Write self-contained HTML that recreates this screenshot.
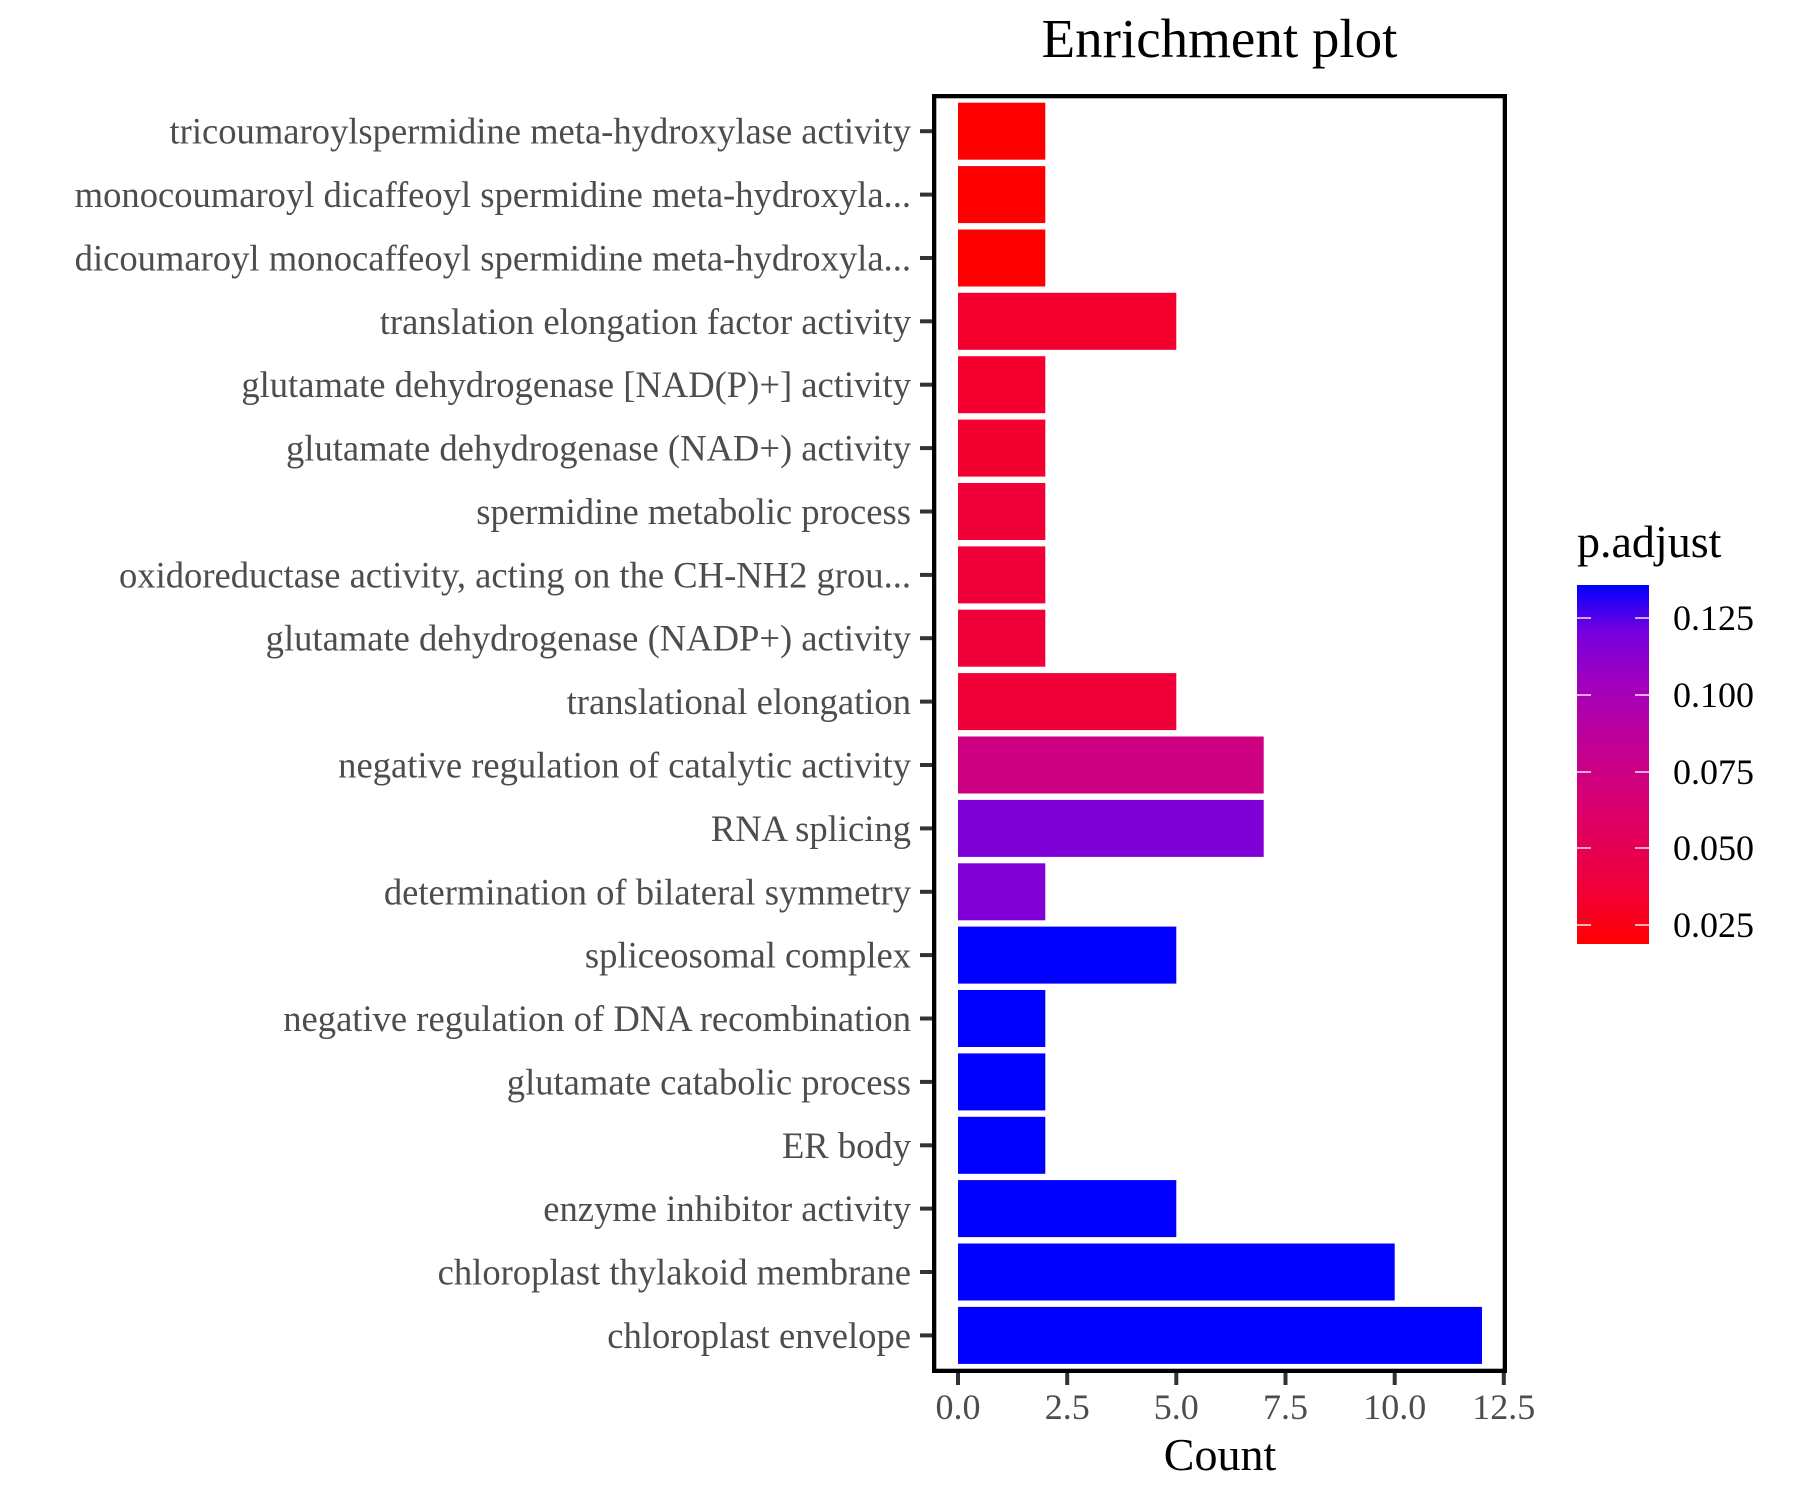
<!DOCTYPE html>
<html>
<head>
<meta charset="utf-8">
<style>
  html, body { margin: 0; padding: 0; background: #ffffff; }
  svg { display: block; }
  text { font-family: "Liberation Serif", "DejaVu Serif", serif; }
</style>
</head>
<body>
<svg width="1800" height="1500" viewBox="0 0 1800 1500" xmlns="http://www.w3.org/2000/svg">
  <defs>
    <linearGradient id="cbar" x1="0" y1="1" x2="0" y2="0">
      <stop offset="0%" stop-color="#FF0000"/>
      <stop offset="12.5%" stop-color="#F40031"/>
      <stop offset="25%" stop-color="#E8004F"/>
      <stop offset="37.5%" stop-color="#DA006C"/>
      <stop offset="50%" stop-color="#CA0089"/>
      <stop offset="62.5%" stop-color="#B500A5"/>
      <stop offset="75%" stop-color="#9A00C3"/>
      <stop offset="87.5%" stop-color="#7300E0"/>
      <stop offset="100%" stop-color="#0000FF"/>
    </linearGradient>
  </defs>
  <rect x="0" y="0" width="1800" height="1500" fill="#ffffff"/>

  <!-- Title -->
  <text x="1219.5" y="57" font-size="55" text-anchor="middle" fill="#000000">Enrichment plot</text>

  <!-- Bars -->
  <g>
    <rect x="958" y="102.7" width="87.3" height="57" fill="#FF0000"/>
    <rect x="958" y="166.1" width="87.3" height="57" fill="#FF0000"/>
    <rect x="958" y="229.5" width="87.3" height="57" fill="#FF0000"/>
    <rect x="958" y="292.8" width="218.3" height="57" fill="#F5002E"/>
    <rect x="958" y="356.2" width="87.3" height="57" fill="#F5002E"/>
    <rect x="958" y="419.6" width="87.3" height="57" fill="#F4002F"/>
    <rect x="958" y="483.0" width="87.3" height="57" fill="#F00038"/>
    <rect x="958" y="546.4" width="87.3" height="57" fill="#F00038"/>
    <rect x="958" y="609.7" width="87.3" height="57" fill="#F00038"/>
    <rect x="958" y="673.1" width="218.3" height="57" fill="#F00038"/>
    <rect x="958" y="736.5" width="305.7" height="57" fill="#CC0080"/>
    <rect x="958" y="799.9" width="305.7" height="57" fill="#8000D8"/>
    <rect x="958" y="863.3" width="87.3" height="57" fill="#8200D6"/>
    <rect x="958" y="926.6" width="218.3" height="57" fill="#0000FF"/>
    <rect x="958" y="990.0" width="87.3" height="57" fill="#0000FF"/>
    <rect x="958" y="1053.4" width="87.3" height="57" fill="#0000FF"/>
    <rect x="958" y="1116.8" width="87.3" height="57" fill="#0000FF"/>
    <rect x="958" y="1180.1" width="218.3" height="57" fill="#0000FF"/>
    <rect x="958" y="1243.5" width="436.7" height="57" fill="#0000FF"/>
    <rect x="958" y="1306.9" width="524" height="57" fill="#0000FF"/>
  </g>

  <!-- Panel border -->
  <rect x="934.15" y="96.15" width="570.7" height="1274.7" fill="none" stroke="#000000" stroke-width="4.3"/>

  <!-- Y ticks -->
  <g stroke="#333333" stroke-width="4">
    <line x1="920" y1="131.2" x2="932" y2="131.2"/>
    <line x1="920" y1="194.6" x2="932" y2="194.6"/>
    <line x1="920" y1="258.0" x2="932" y2="258.0"/>
    <line x1="920" y1="321.3" x2="932" y2="321.3"/>
    <line x1="920" y1="384.7" x2="932" y2="384.7"/>
    <line x1="920" y1="448.1" x2="932" y2="448.1"/>
    <line x1="920" y1="511.5" x2="932" y2="511.5"/>
    <line x1="920" y1="574.9" x2="932" y2="574.9"/>
    <line x1="920" y1="638.2" x2="932" y2="638.2"/>
    <line x1="920" y1="701.6" x2="932" y2="701.6"/>
    <line x1="920" y1="765.0" x2="932" y2="765.0"/>
    <line x1="920" y1="828.4" x2="932" y2="828.4"/>
    <line x1="920" y1="891.8" x2="932" y2="891.8"/>
    <line x1="920" y1="955.1" x2="932" y2="955.1"/>
    <line x1="920" y1="1018.5" x2="932" y2="1018.5"/>
    <line x1="920" y1="1081.9" x2="932" y2="1081.9"/>
    <line x1="920" y1="1145.3" x2="932" y2="1145.3"/>
    <line x1="920" y1="1208.6" x2="932" y2="1208.6"/>
    <line x1="920" y1="1272.0" x2="932" y2="1272.0"/>
    <line x1="920" y1="1335.4" x2="932" y2="1335.4"/>
  </g>

  <!-- Y labels -->
  <g font-size="36.6" fill="#4D4D4D" text-anchor="end">
    <text x="911" y="143.7">tricoumaroylspermidine meta-hydroxylase activity</text>
    <text x="911" y="207.1">monocoumaroyl dicaffeoyl spermidine meta-hydroxyla...</text>
    <text x="911" y="270.5">dicoumaroyl monocaffeoyl spermidine meta-hydroxyla...</text>
    <text x="911" y="333.8">translation elongation factor activity</text>
    <text x="911" y="397.2">glutamate dehydrogenase [NAD(P)+] activity</text>
    <text x="911" y="460.6">glutamate dehydrogenase (NAD+) activity</text>
    <text x="911" y="524.0">spermidine metabolic process</text>
    <text x="911" y="587.4">oxidoreductase activity, acting on the CH-NH2 grou...</text>
    <text x="911" y="650.7">glutamate dehydrogenase (NADP+) activity</text>
    <text x="911" y="714.1">translational elongation</text>
    <text x="911" y="777.5">negative regulation of catalytic activity</text>
    <text x="911" y="840.9">RNA splicing</text>
    <text x="911" y="904.3">determination of bilateral symmetry</text>
    <text x="911" y="967.6">spliceosomal complex</text>
    <text x="911" y="1031.0">negative regulation of DNA recombination</text>
    <text x="911" y="1094.4">glutamate catabolic process</text>
    <text x="911" y="1157.8">ER body</text>
    <text x="911" y="1221.1">enzyme inhibitor activity</text>
    <text x="911" y="1284.5">chloroplast thylakoid membrane</text>
    <text x="911" y="1347.9">chloroplast envelope</text>
  </g>

  <!-- X ticks -->
  <g stroke="#333333" stroke-width="4">
    <line x1="958" y1="1373" x2="958" y2="1385"/>
    <line x1="1067.2" y1="1373" x2="1067.2" y2="1385"/>
    <line x1="1176.3" y1="1373" x2="1176.3" y2="1385"/>
    <line x1="1285.5" y1="1373" x2="1285.5" y2="1385"/>
    <line x1="1394.7" y1="1373" x2="1394.7" y2="1385"/>
    <line x1="1503.8" y1="1373" x2="1503.8" y2="1385"/>
  </g>
  <g font-size="36" fill="#4D4D4D" text-anchor="middle">
    <text x="958" y="1419">0.0</text>
    <text x="1067.2" y="1419">2.5</text>
    <text x="1176.3" y="1419">5.0</text>
    <text x="1285.5" y="1419">7.5</text>
    <text x="1394.7" y="1419">10.0</text>
    <text x="1503.8" y="1419">12.5</text>
  </g>

  <!-- X axis title -->
  <text x="1220" y="1470" font-size="46" text-anchor="middle" fill="#000000">Count</text>

  <!-- Legend -->
  <text x="1577" y="557" font-size="46" fill="#000000">p.adjust</text>
  <rect x="1577" y="585" width="72" height="359" fill="url(#cbar)"/>
  <g stroke="#ffffff" stroke-width="1.5" opacity="0.9">
    <line x1="1577" y1="618" x2="1591" y2="618"/>
    <line x1="1635" y1="618" x2="1649" y2="618"/>
    <line x1="1577" y1="695" x2="1591" y2="695"/>
    <line x1="1635" y1="695" x2="1649" y2="695"/>
    <line x1="1577" y1="772" x2="1591" y2="772"/>
    <line x1="1635" y1="772" x2="1649" y2="772"/>
    <line x1="1577" y1="848" x2="1591" y2="848"/>
    <line x1="1635" y1="848" x2="1649" y2="848"/>
    <line x1="1577" y1="925" x2="1591" y2="925"/>
    <line x1="1635" y1="925" x2="1649" y2="925"/>
  </g>
  <g font-size="36" fill="#000000">
    <text x="1673" y="630">0.125</text>
    <text x="1673" y="707">0.100</text>
    <text x="1673" y="784">0.075</text>
    <text x="1673" y="860">0.050</text>
    <text x="1673" y="937">0.025</text>
  </g>
</svg>
</body>
</html>
